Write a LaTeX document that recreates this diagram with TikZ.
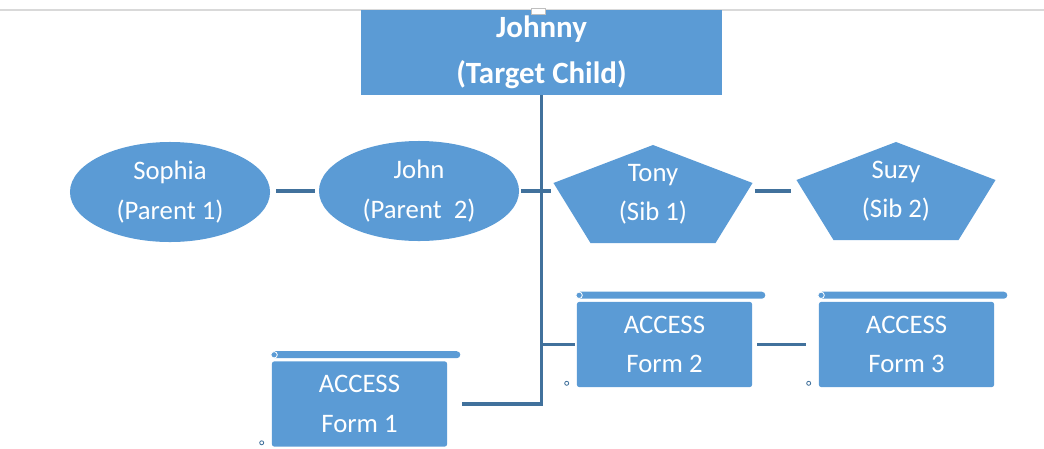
\documentclass[tikz,border=0pt]{standalone}
\usepackage{fontspec}
\setmainfont{Carlito}
\usetikzlibrary{shapes.geometric,positioning}
\definecolor{boxblue}{HTML}{5B9BD5}
\definecolor{lineblue}{HTML}{41719C}
\tikzset{
  base/.style={text=white, align=center, inner sep=0pt, font=\fontsize{19}{28}\selectfont},
  target/.style={base, fill=boxblue, minimum width=9.025cm, minimum height=2.125cm, font=\fontsize{22}{33}\selectfont\bfseries},
  parent/.style={base, fill=boxblue, ellipse, minimum width=5cm, minimum height=2.5cm},
  sib/.style={base, minimum width=4.975cm, minimum height=2.45cm, path picture={
      \fill[boxblue] (path picture bounding box.north)
        -- ([yshift=-0.95cm]path picture bounding box.north east)
        -- ([xshift=-0.925cm]path picture bounding box.south east)
        -- ([xshift=0.925cm]path picture bounding box.south west)
        -- ([yshift=-0.95cm]path picture bounding box.north west) -- cycle;}},
  form/.style={base, fill=boxblue, rounded corners=1.5pt, minimum width=4.375cm, minimum height=2.125cm},
  link/.style={lineblue, line width=2.2pt}
}
\begin{document}
\begin{tikzpicture}[x=0.025cm, y=-0.025cm]
  \useasboundingbox (0,0) rectangle (1044,448);
  \draw[black!15, line width=0.8pt] (0,10) -- (1044,10);

  \node[target] (jo) at (541.5,52.5) {Johnny\\(Target Child)};
  \filldraw[fill=white, draw=black!25, line width=0.4pt] (531,8) rectangle (545,14);

  \node[parent] (p1) at (170,192) {Sophia\\(Parent 1)};
  \node[parent] (p2) at (419,191) {John\\(Parent~~2)};
  \node[sib] (s1) at (653,194) {Tony\\(Sib 1)};
  \node[sib] (s2) at (896,191) {Suzy\\(Sib 2)};

  \node[form] (f1) at (359.5,404) {ACCESS\\Form 1};
  \node[form] (f2) at (664.5,344.5) {ACCESS\\Form 2};
  \node[form] (f3) at (906.5,344.5) {ACCESS\\Form 3};
  \foreach \f in {f1,f2,f3}{
    \fill[boxblue, rounded corners=2.5pt] ([yshift=0.075cm]\f.north west) rectangle ([xshift=0.325cm,yshift=0.25cm]\f.north east);
    \filldraw[fill=boxblue, draw=white, line width=0.6pt] ([xshift=0.06cm,yshift=0.16cm]\f.north west) circle (0.08cm);
    \draw[lineblue, line width=0.6pt] ([xshift=-0.25cm,yshift=0.1cm]\f.south west) circle (0.05cm);
  }

  \draw[link] (jo.south) |- ([xshift=0.375cm]f1.east);
  \draw[link] ([xshift=-0.05cm]f2.west) -- (f2.west -| jo.south);
  \draw[link] ([xshift=0.05cm]p2.east) -- ([xshift=-0.05cm]p2.east -| s1.west);
  \draw[link] ([xshift=0.15cm]p1.east |- p2.east) -- ([xshift=-0.1cm]p2.west);
  \draw[link] ([xshift=0.05cm]s1.east |- s2.west) -- ([xshift=-0.12cm]s2.west);
  \draw[link] ([xshift=0.12cm]f2.east) -- ([xshift=-0.32cm]f3.west |- f2.east);
\end{tikzpicture}
\end{document}
